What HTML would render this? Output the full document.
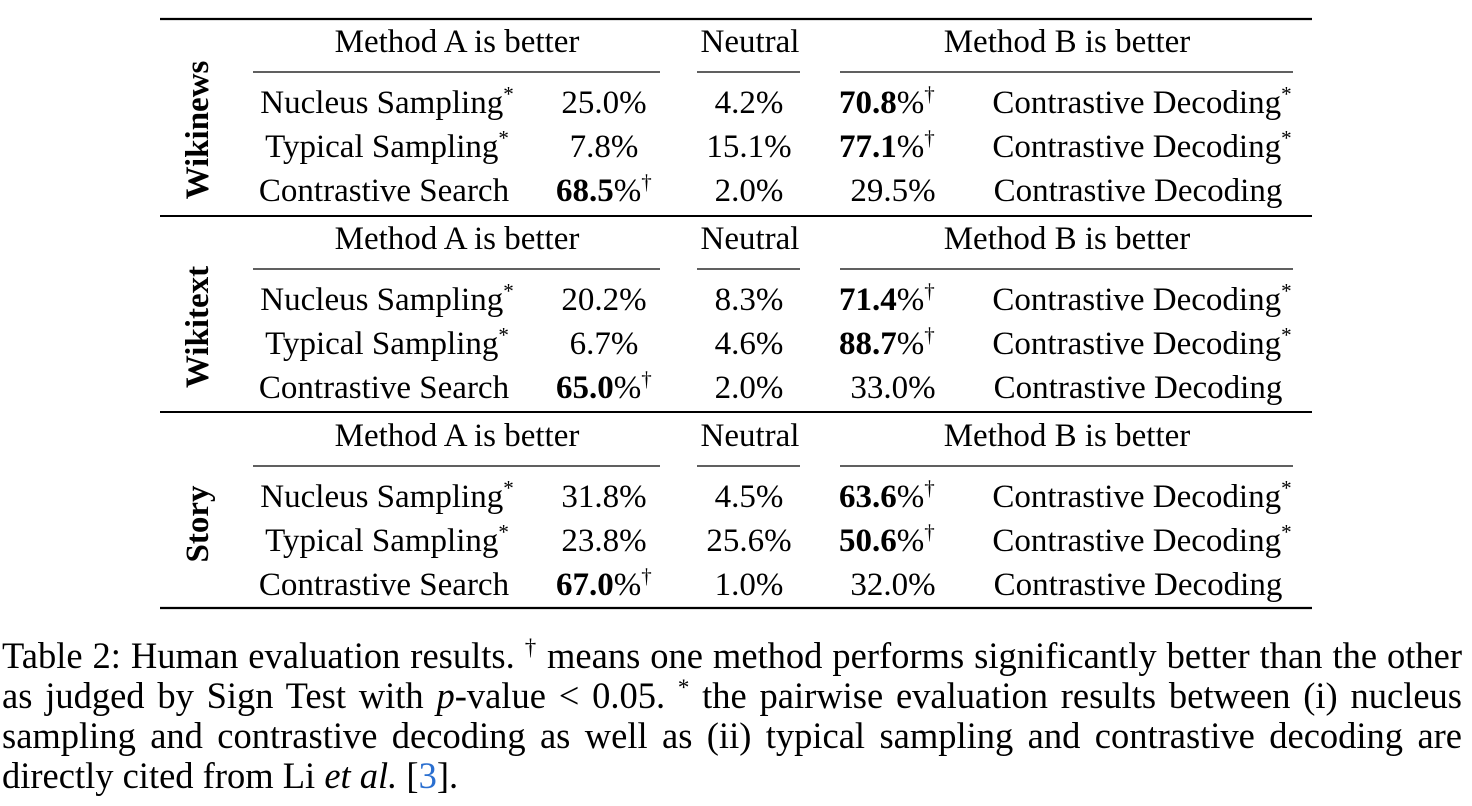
<!DOCTYPE html>
<html><head><meta charset="utf-8">
<style>
html,body{margin:0;padding:0;background:#fff;width:1472px;height:806px;overflow:hidden;}
svg{position:absolute;left:0;top:0;}
text{font-family:"Liberation Serif",serif;font-size:33px;fill:#000;}
.b{font-weight:bold;}
#cap{position:absolute;left:2px;top:636px;width:1460px;font-family:"Liberation Serif",serif;font-size:36.5px;line-height:40px;color:#000;}
#cap div{text-align:justify;text-align-last:justify;height:40px;overflow:visible;white-space:nowrap;}
#cap div.last{text-align-last:left;}
#cap sup{font-size:23px;line-height:0;}
</style></head><body>
<svg width="1472" height="806">
<g stroke="#000">
<line x1="160" x2="1312" y1="19" y2="19" stroke-width="2.2"/>
<line x1="160" x2="1312" y1="216" y2="216" stroke-width="2"/>
<line x1="160" x2="1312" y1="412" y2="412" stroke-width="2"/>
<line x1="160" x2="1312" y1="608" y2="608" stroke-width="2.2"/>
</g>
<g id="body"></g>
</svg>
<div id="cap">
<div>Table 2: Human evaluation results. <sup>†</sup> means one method performs significantly better than the other</div>
<div>as judged by Sign Test with <i>p</i>-value &lt; 0.05. <sup>*</sup> the pairwise evaluation results between (i) nucleus</div>
<div>sampling and contrastive decoding as well as (ii) typical sampling and contrastive decoding are</div>
<div class="last">directly cited from Li <i>et al.</i> [<span style="color:#2a6fd0">3</span>].</div>
</div>
<script>
const datasets=["Wikinews","Wikitext","Story"];
const methodsA=["Nucleus Sampling","Typical Sampling","Contrastive Search"];
const methodsB=["Contrastive Decoding","Contrastive Decoding","Contrastive Decoding"];
const cited=[true,true,false];
const aVals=[[25.0,7.8,68.5],[20.2,6.7,65.0],[31.8,23.8,67.0]];
const nVals=[[4.2,15.1,2.0],[8.3,4.6,2.0],[4.5,25.6,1.0]];
const bVals=[[70.8,77.1,29.5],[71.4,88.7,33.0],[63.6,50.6,32.0]];
const NS="http://www.w3.org/2000/svg";
const g=document.getElementById('body');
function t(x,y,anchor,html,cls){const e=document.createElementNS(NS,'text');e.setAttribute('x',x);e.setAttribute('y',y);e.setAttribute('text-anchor',anchor);if(cls)e.setAttribute('class',cls);e.innerHTML=html;g.appendChild(e);return e;}
function ln(x1,x2,y){const e=document.createElementNS(NS,'line');e.setAttribute('x1',x1);e.setAttribute('x2',x2);e.setAttribute('y1',y);e.setAttribute('y2',y);e.setAttribute('stroke','#000');e.setAttribute('stroke-width','1.2');g.appendChild(e);}
const sup=s=>`<tspan dy="-12" font-size="21">${s}</tspan>`;
datasets.forEach((d,i)=>{
  const off=i*197;
  let e=t(0,0,'middle',d,'b');e.setAttribute('transform',`translate(208,${130+off}) rotate(-90)`);
  e.setAttribute('font-size','34');
  
  
  e=t(457,52+off,'middle','Method A is better');
  
  
  e=t(750,52+off,'middle','Neutral');
  
  
  e=t(1067,52+off,'middle','Method B is better');
  
  
  ln(253,660,72+off);ln(697,800,72+off);ln(840,1293,72+off);
  for(let r=0;r<3;r++){
    const y=113+off+r*44;
    const a=aVals[i][r],n=nVals[i][r],b=bVals[i][r];
    const aWin=a>b;
    e=t(cited[r]?387:384,y,'middle',methodsA[r]+(cited[r]?sup('*'):''));
    
    
    e=t(aWin?556:565,y,'start',aWin?`<tspan font-weight="bold">${a.toFixed(1)}</tspan>%${sup('†')}`:a.toFixed(1)+'%');
    if(!aWin){e.setAttribute('x',604);e.setAttribute('text-anchor','middle');}
    
    
    e=t(749,y,'middle',n.toFixed(1)+'%');
    
    
    e=t(aWin?893:839,y,aWin?'middle':'start',aWin?b.toFixed(1)+'%':`<tspan font-weight="bold">${b.toFixed(1)}</tspan>%${sup('†')}`);
    
    
    e=t(cited[r]?1142:1138,y,'middle',methodsB[r]+(cited[r]?sup('*'):''));
    
    
  }
});
</script>
</body></html>
